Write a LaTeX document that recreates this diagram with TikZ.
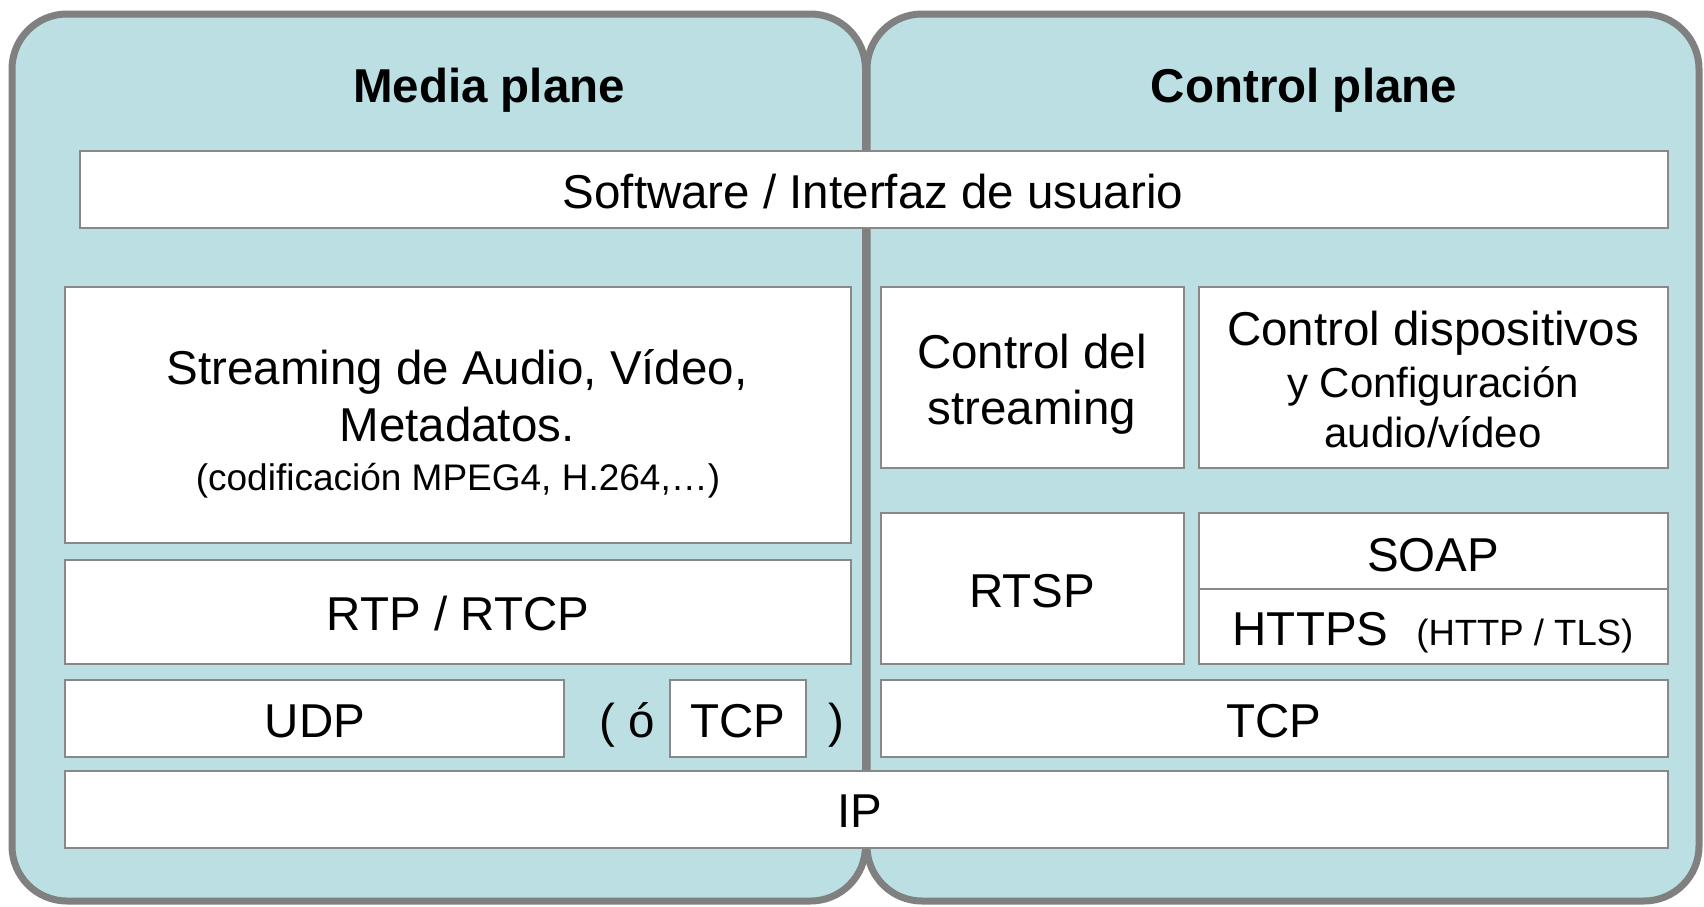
\documentclass[tikz,border=0pt]{standalone}
\usepackage{fontspec}
\setmainfont{Liberation Sans}
\definecolor{planefill}{HTML}{BBDFE3}
\definecolor{planeline}{HTML}{808080}
\definecolor{boxline}{HTML}{888888}
\tikzset{
  plane/.style={fill=planefill, draw=planeline, line width=7pt, rounded corners=55pt},
  layer/.style={draw=boxline, fill=white, line width=2.5pt, inner sep=0pt, outer sep=0pt},
  big/.style={font=\fontsize{47.5}{57}\selectfont, inner sep=0pt, anchor=base},
  bigb/.style={font=\fontsize{47.5}{57}\selectfont\bfseries, inner sep=0pt, anchor=base},
  mid/.style={font=\fontsize{42}{50}\selectfont, inner sep=0pt, anchor=base},
  small/.style={font=\fontsize{37}{44}\selectfont, inner sep=0pt, anchor=base},
}
\newcommand\layerbox[5]{\node[layer, minimum width={(#4-#2)*1pt}, minimum height={(#5-#3)*1pt}] (#1) at ({(#2+#4)/2},{(#3+#5)/2}) {};}
\begin{document}
\begin{tikzpicture}[x=1pt,y=-1pt]
\useasboundingbox (0,0) rectangle (1704,906);
% planes
\draw[plane] (12,14) rectangle (865.5,901);
\draw[plane] (867,14) rectangle (1699,901);
% boxes
\layerbox{soft}{80}{151}{1668}{228}
\layerbox{stream}{65}{287}{851}{543}
\layerbox{rtp}{65}{560}{851}{664}
\layerbox{udp}{65}{680}{564}{757}
\layerbox{tcpl}{670}{680}{806}{757}
\layerbox{ip}{65}{771}{1668}{848}
\layerbox{ctrlstr}{881}{287}{1184}{468}
\layerbox{ctrldev}{1199}{287}{1668}{468}
\layerbox{rtsp}{881}{513}{1184}{664}
\layerbox{soap}{1199}{513}{1668}{589}
\layerbox{https}{1199}{589}{1668}{664}
\layerbox{tcpr}{881}{680}{1668}{757}
% titles
\node[bigb] (tmedia) at (489,102) {Media plane};
\node[bigb] (tctrl) at (1304,102) {Control plane};
% texts
\node[big] (tsoft) at (873,208) {Software / Interfaz de usuario};
\node[big] (tstr1) at (457,384) {Streaming de Audio, Vídeo,};
\node[big] (tstr2) at (457,441) {Metadatos.};
\node[small] (tstr3) at (458,490) {(codificación MPEG4, H.264,…)};
\node[big] (trtp) at (458,630) {RTP / RTCP};
\node[big] (tudp) at (315,737) {UDP};
\node[big, anchor=base west] (topen) at (599,737) {( ó};
\node[big] (ttcpl) at (738,737) {TCP};
\node[big] (tclose) at (836,737) {)};
\node[big] (tip) at (860,827) {IP};
\node[big] (tcs1) at (1032,368) {Control del};
\node[big] (tcs2) at (1032,424) {streaming};
\node[big] (tcd1) at (1433,345) {Control dispositivos};
\node[mid] (tcd2) at (1433,397) {y Configuración};
\node[mid] (tcd3) at (1433,447) {audio/vídeo};
\node[big] (trtsp) at (1032,607) {RTSP};
\node[big] (tsoap) at (1433,571) {SOAP};
\node[big] (thttps) at (1433,645) {HTTPS\hspace{28pt}{\fontsize{36.5}{43}\selectfont(HTTP / TLS)}};
\node[big] (ttcpr) at (1274,737) {TCP};
\end{tikzpicture}
\end{document}
